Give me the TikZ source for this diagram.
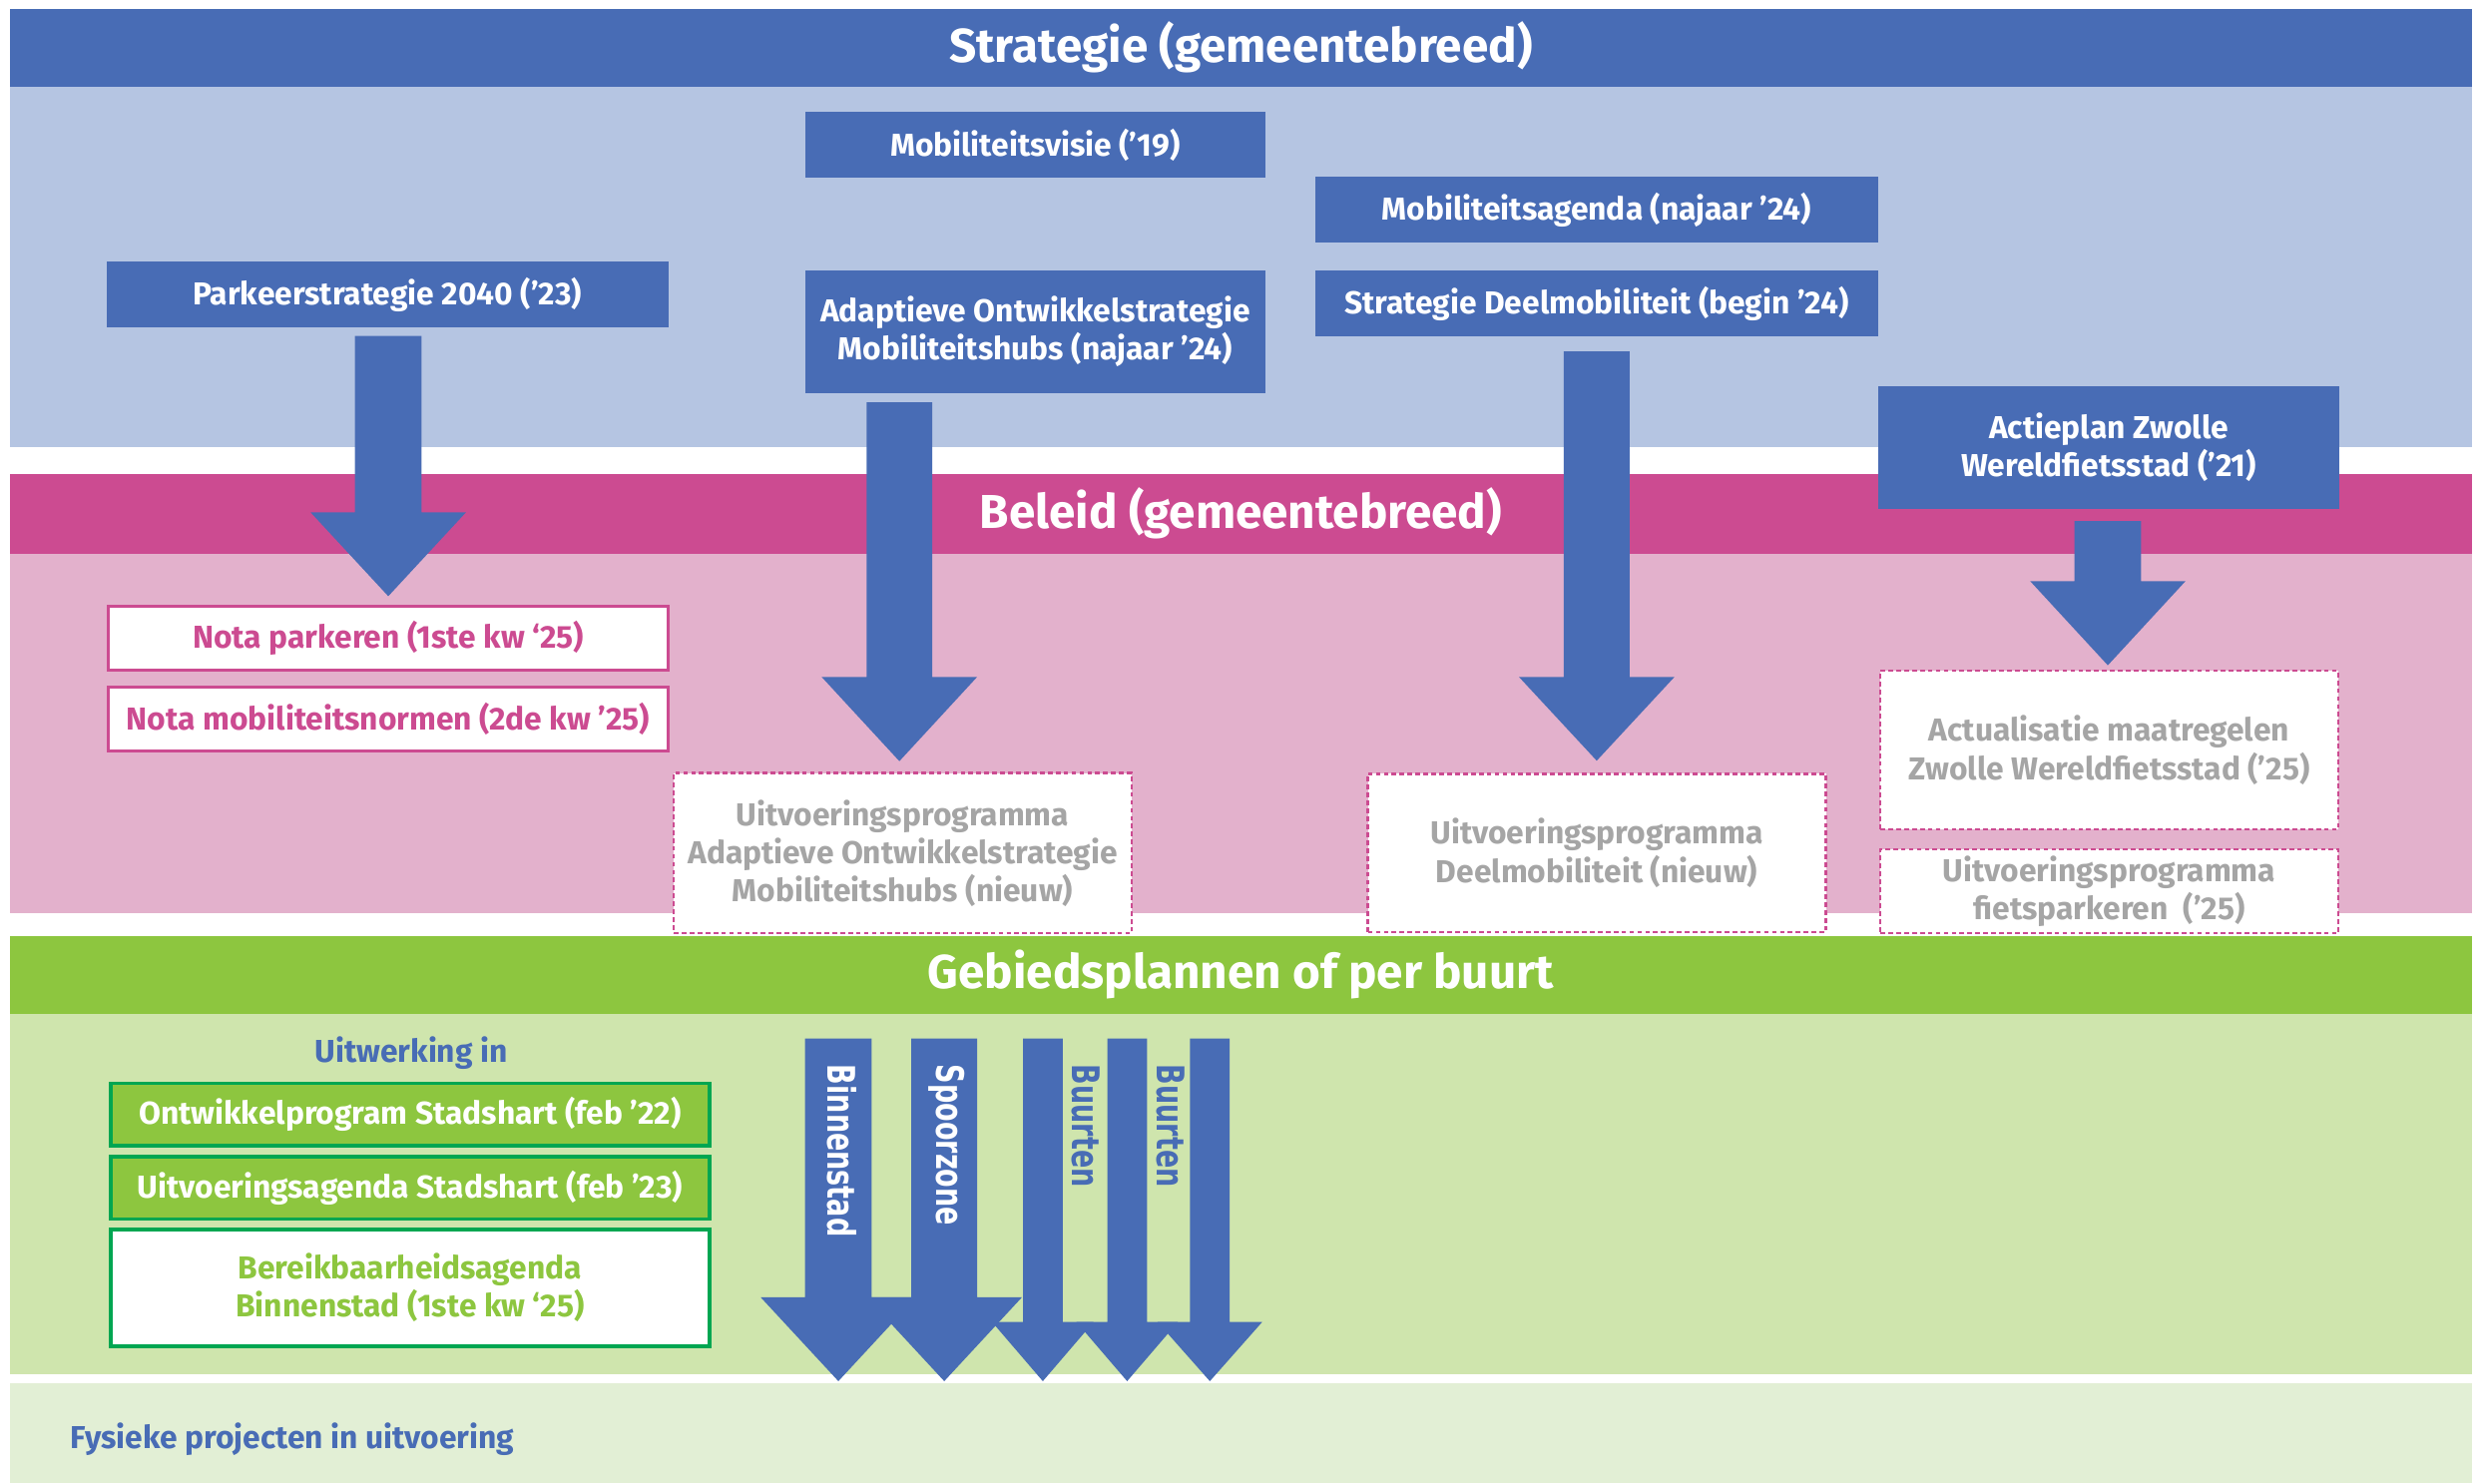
\documentclass[tikz,border=0pt]{standalone}
\usepackage{fontspec}
\setmainfont{Fira Sans}
\newfontfamily\vfont{DejaVu Sans}[FakeStretch=0.71]
\definecolor{cblue}{HTML}{486CB5}
\definecolor{clblue}{HTML}{B5C5E2}
\definecolor{cmag}{HTML}{CC4B91}
\definecolor{cpink}{HTML}{E3B1CC}
\definecolor{cgreen}{HTML}{8DC63F}
\definecolor{clgreen}{HTML}{CFE5AD}
\definecolor{cvlgreen}{HTML}{E2EFD5}
\definecolor{cdkgreen}{HTML}{00A651}
\definecolor{cgrey}{HTML}{A5A5A5}
\newcommand\blkarrow[7]{%
  \fill[cblue] (#2-#6,#3) coordinate (#1-s) -- (#2+#6,#3) -- (#2+#6,#4) -- (#2+#7,#4) -- (#2,#5) coordinate (#1) -- (#2-#7,#4) -- (#2-#6,#4) -- cycle;}
\begin{document}
\begin{tikzpicture}[x=1pt,y=-1pt,
  bf/.style={font=\fontsize{20}{24}\selectfont\bfseries},
  hdr/.style={font=\fontsize{30}{32}\selectfont\bfseries, text=white, inner sep=0},
  sbox/.style={bf, fill=cblue, text=white, align=center, inner sep=0},
  pbox/.style={bf, fill=white, draw=cmag, line width=2pt, text=cmag, align=center, inner sep=0},
  dbox/.style={bf, fill=white, draw=cmag, line width=1.6pt, dash pattern=on 3pt off 2pt, text=cgrey, align=center, inner sep=0},
  gbox/.style={bf, fill=cgreen, draw=cdkgreen, line width=2.4pt, text=white, align=center, inner sep=0},
  wgbox/.style={bf, fill=white, draw=cdkgreen, line width=2.4pt, text=cgreen, align=center, inner sep=0},
  lbl/.style={bf, text=cblue, inner sep=0},
  vlab/.style={font=\vfont\bfseries\fontsize{24}{26}\selectfont, rotate=-90, anchor=west, inner sep=0}]
\useasboundingbox (0,0) rectangle (1568,936);
\fill[white] (0,0) rectangle (1568,936);
% bands
\fill[cblue] (6.3,5.6) rectangle (1560,55.1);
\fill[clblue] (6.3,55.1) rectangle (1560,281.8);
\fill[cmag] (6.3,299) rectangle (1560,349.5);
\fill[cpink] (6.3,349.5) rectangle (1560,576.2);
\fill[cgreen] (6.3,590.5) rectangle (1560,640);
\fill[clgreen] (6.3,640) rectangle (1560,867);
\fill[cvlgreen] (6.3,873) rectangle (1560,936);
\node[hdr] (hstrat) at (783,30) {Strategie (gemeentebreed)};
\node[hdr] (hbeleid) at (783,324) {Beleid (gemeentebreed)};
\node[hdr] (hgebied) at (783,615) {Gebiedsplannen of per buurt};
% strategy boxes
\node[sbox, minimum width=290.5pt, minimum height=41.2pt] (visie) at (653.2,91.3) {Mobiliteitsvisie ('19)};
\node[sbox, minimum width=354.4pt, minimum height=41.4pt] (park) at (244.5,185.7) {Parkeerstrategie 2040 ('23)};
\node[sbox, minimum width=290.5pt, minimum height=77.2pt] (adapt) at (653.2,209.3) {Adaptieve Ontwikkelstrategie\\Mobiliteitshubs (najaar '24)};
\node[sbox, minimum width=355pt, minimum height=41.5pt] (agenda) at (1007.5,132.3) {Mobiliteitsagenda (najaar '24)};
\node[sbox, minimum width=355pt, minimum height=41.4pt] (deel) at (1007.5,191.4) {Strategie Deelmobiliteit (begin '24)};
\node[sbox, minimum width=291.2pt, minimum height=77.2pt] (actie) at (1330.6,282.4) {Actieplan Zwolle\\Wereldfietsstad ('21)};
% policy boxes
\node[pbox, minimum width=353pt, minimum height=40pt] (nota1) at (245,402.6) {Nota parkeren (1ste kw `25)};
\node[pbox, minimum width=353pt, minimum height=40pt] (nota2) at (245,453.8) {Nota mobiliteitsnormen (2de kw '25)};
\node[dbox, minimum width=289pt, minimum height=101pt] (uitv1) at (569.6,538.3) {Uitvoeringsprogramma\\Adaptieve Ontwikkelstrategie\\Mobiliteitshubs (nieuw)};
\node[dbox, minimum width=289pt, minimum height=100pt] (uitv2) at (1007.6,538.2) {Uitvoeringsprogramma\\Deelmobiliteit (nieuw)};
\node[dbox, minimum width=289pt, minimum height=100pt] (actual) at (1330.9,473.3) {Actualisatie maatregelen\\Zwolle Wereldfietsstad ('25)};
\node[dbox, minimum width=289pt, minimum height=53pt] (fiets) at (1330.9,562.4) {Uitvoeringsprogramma\\fietsparkeren\ \ ('25)};
% area boxes
\node[lbl] (uitw) at (259.5,664.3) {Uitwerking in};
\node[gbox, minimum width=378pt, minimum height=39.5pt] (ontw) at (258.7,703.3) {Ontwikkelprogram Stadshart (feb '22)};
\node[gbox, minimum width=378pt, minimum height=39.5pt] (uitvag) at (258.7,749.4) {Uitvoeringsagenda Stadshart (feb '23)};
\node[wgbox, minimum width=378pt, minimum height=74pt] (bereik) at (258.7,812.7) {Bereikbaarheidsagenda\\Binnenstad (1ste kw `25)};
\node[lbl, anchor=west] (fys) at (44.4,908.3) {Fysieke projecten in uitvoering};
% block arrows
\blkarrow{a1}{245}{212}{323.3}{376.2}{21}{49}
\blkarrow{a2}{567.5}{253.8}{427.2}{480.3}{20.7}{49}
\blkarrow{a3}{1007.5}{221.7}{427.2}{480}{20.8}{49}
\blkarrow{a4}{1330}{328.8}{366.7}{419.8}{21}{49}
\blkarrow{a5}{529}{655.3}{818.6}{871.5}{21}{49}
\blkarrow{a6}{595.8}{655.3}{818.6}{871.5}{20.8}{49}
\blkarrow{a7}{658}{655.3}{834.2}{871.5}{12.5}{32}
\blkarrow{a8}{711.2}{655.3}{834.2}{871.5}{12.5}{32}
\blkarrow{a9}{763.4}{655.3}{834.2}{871.5}{12.5}{33}
\node[vlab, text=white] (lb1) at (531,671.6) {Binnenstad};
\node[vlab, text=white] (lb2) at (597.7,671.6) {Spoorzone};
\node[vlab, text=cblue] (lb3) at (685,671.6) {Buurten};
\node[vlab, text=cblue] (lb4) at (738.9,671.6) {Buurten};
\end{tikzpicture}
\end{document}
